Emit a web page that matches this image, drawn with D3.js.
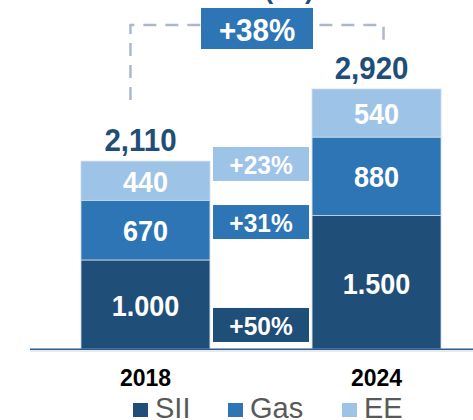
<!DOCTYPE html>
<html>
<head>
<meta charset="utf-8">
<script src="https://cdn.jsdelivr.net/npm/d3@7"></script>
<style>
  html, body { margin: 0; padding: 0; background: #fff; }
  svg { display: block; }
  text { font-family: "Liberation Sans", Arial, sans-serif; }
</style>
</head>
<body>
<svg id="chart" width="473" height="420"></svg>
<script>
// ---- data ----
const years = ["2018", "2024"];
const series = ["SII", "Gas", "EE"];
const sii = [1000, 1500];
const gas = [670, 880];
const ee = [440, 540];
const siiLabels = ["1.000", "1.500"];
const gasLabels = ["670", "880"];
const eeLabels = ["440", "540"];
const totalLabels = ["2,110", "2,920"];
const growthLabels = ["+50%", "+31%", "+23%"]; // SII, Gas, EE
const totalGrowthLabel = "+38%";
const colors = { SII: "#1f4e79", Gas: "#2e75b6", EE: "#9dc3e6" };

// ---- layout ----
const svg = d3.select("#chart");
const baseY = 349;
const rows = years.map((y, i) => ({ year: y, SII: sii[i], Gas: gas[i], EE: ee[i] }));
const totals = rows.map(r => r.SII + r.Gas + r.EE);

const x = d3.scaleBand().domain(years).range([81, 441]).paddingInner(0.442).paddingOuter(0);
const y = d3.scaleLinear().domain([0, d3.max(totals)]).range([baseY, 89]);

const stack = d3.stack().keys(series)(rows);
const labelSets = { SII: siiLabels, Gas: gasLabels, EE: eeLabels };

function boldText(g, txt, cx, by, size, fill, sy) {
  g.append("text")
    .attr("transform", `translate(${cx},${by}) scale(1,${sy})`)
    .attr("text-anchor", "middle")
    .attr("font-weight", "bold")
    .attr("font-size", size)
    .attr("fill", fill)
    .text(txt);
}

// partially visible title
svg.append("text")
  .attr("x", 289).attr("y", -1.5)
  .attr("text-anchor", "middle")
  .attr("font-weight", "bold")
  .attr("font-size", 26)
  .attr("fill", colors.SII)
  .text("(bn)");

// bars
const layers = svg.append("g");
stack.forEach(layer => {
  const key = layer.key;
  layers.selectAll(null).data(layer).enter().append("rect")
    .attr("x", d => x(d.data.year))
    .attr("y", d => y(d[1]))
    .attr("width", x.bandwidth())
    .attr("height", d => y(d[0]) - y(d[1]))
    .attr("fill", colors[key])
    .attr("stroke", "#c9d9ea")
    .attr("stroke-width", 0.8);
});

// segment labels
const lg = svg.append("g");
stack.forEach(layer => {
  layer.forEach((d, i) => {
    const cx = x(d.data.year) + x.bandwidth() / 2;
    const mid = (y(d[0]) + y(d[1])) / 2;
    const off = layer.key === "SII" ? 12 : 11;
    boldText(lg, labelSets[layer.key][i], cx, mid + off, 27, "#fff", 1.1);
  });
});

// totals
totals.forEach((t, i) => {
  const cx = x(years[i]) + x.bandwidth() / 2 - 5;
  boldText(svg, totalLabels[i], cx, y(t) - 10, 29.5, colors.SII, 1.05);
});

// axis baseline
svg.append("line").attr("x1", 30).attr("x2", 473).attr("y1", baseY + 0.2).attr("y2", baseY + 0.2)
  .attr("stroke", "#2f5d8c").attr("stroke-width", 1.6);
svg.append("line").attr("x1", 30).attr("x2", 473).attr("y1", baseY + 2).attr("y2", baseY + 2)
  .attr("stroke", "#cdd8e4").attr("stroke-width", 1.2);

// year tick labels
const xAxis = d3.axisBottom(x).tickSize(0).tickPadding(0);
const ax = svg.append("g").attr("transform", `translate(0,${baseY})`).call(xAxis);
ax.select(".domain").remove();
ax.selectAll("text")
  .attr("dy", null).attr("y", 37)
  .attr("font-family", "'Liberation Sans', Arial, sans-serif")
  .attr("font-size", 23).attr("font-weight", "bold").attr("fill", "#000");

// connector between totals
const cxA = x(years[0]) + x.bandwidth() / 2 - 15;
const cxB = x(years[1]) + x.bandwidth() / 2 + 7;
const topY = 25;
svg.append("path")
  .attr("d", `M${cxA},${y(totals[0]) - 61} V${topY} H${cxB} V${y(totals[1]) - 48}`)
  .attr("fill", "none").attr("stroke", "#adb9cb").attr("stroke-width", 2.5)
  .attr("stroke-dasharray", "13,9");

// growth boxes in the gap
const gapL = x(years[0]) + x.bandwidth();
const gapR = x(years[1]);
const gapC = (gapL + gapR) / 2;
const boxW = 96, boxH = 34;
const anchors = [270, 1426, 2078]; // vertical anchors in data units for SII, Gas, EE boxes
const boxCols = [colors.SII, colors.Gas, colors.EE];
growthLabels.forEach((lab, i) => {
  const cy = y(anchors[i]);
  svg.append("rect").attr("x", gapC - boxW / 2).attr("y", cy - boxH / 2)
    .attr("width", boxW).attr("height", boxH).attr("fill", boxCols[i]);
  boldText(svg, lab, gapC, cy + 10, 24.5, "#fff", 1.08);
});

// total growth box
svg.append("rect").attr("x", (cxA + cxB) / 2 - 56).attr("y", 8).attr("width", 112).attr("height", 41)
  .attr("fill", colors.Gas);
boldText(svg, totalGrowthLabel, (cxA + cxB) / 2, 41, 29.5, "#fff", 1.06);

// legend
const legX = [133, 228, 342];
const leg = svg.append("g");
series.forEach((s, i) => {
  leg.append("rect").attr("x", legX[i]).attr("y", 403).attr("width", 15).attr("height", 14).attr("fill", colors[s]);
  leg.append("text").attr("x", legX[i] + 22).attr("y", 418)
    .attr("font-size", 29).attr("fill", "#595959").text(s);
});
</script>
</body>
</html>
